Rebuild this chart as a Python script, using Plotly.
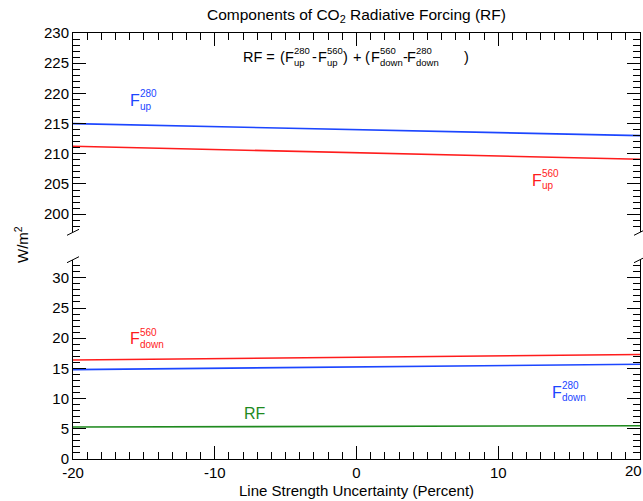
import plotly.graph_objects as go

# ---- data ----
line_strength = [-20, -10, 0, 10, 20]
f_up_280 = [215.0, 214.5, 214.0, 213.5, 213.0]
f_up_560 = [211.25, 210.7, 210.15, 209.6, 209.1]
f_down_560 = [16.4, 16.65, 16.85, 17.1, 17.3]
f_down_280 = [14.8, 15.05, 15.25, 15.5, 15.7]
rf = [5.3, 5.35, 5.4, 5.45, 5.5]

x_ticks = [-20, -10, 0, 10, 20]
x_tick_text = ["-20", "-10", "0", "10", "20"]
top_range = [197, 230]
bottom_range = [0, 33]

BLUE = "#1c46ff"
RED = "#ff1c1c"
GREEN = "#1f8a1f"
FONT = "Liberation Sans, Arial, Helvetica, sans-serif"

W, H = 643, 501
L, R, T, B = 73, 3, 33, 42
PW, PH = W - L - R, H - T - B

def px2x(px):
    return (px - L) / PW

def py2y(py):
    return (H - B - py) / PH

panel_px = 199.3
dom_bottom = [0, panel_px / PH]
dom_top = [1 - panel_px / PH, 1]

fig = go.Figure()
for y, c, ax in [(f_up_280, BLUE, "top"), (f_up_560, RED, "top"),
                 (f_down_560, RED, "bot"), (f_down_280, BLUE, "bot"),
                 (rf, GREEN, "bot")]:
    fig.add_trace(go.Scatter(
        x=line_strength, y=y, mode="lines",
        line=dict(color=c, width=1.6),
        xaxis="x2" if ax == "top" else "x",
        yaxis="y2" if ax == "top" else "y",
        showlegend=False, hoverinfo="skip"))

axis_common = dict(showline=True, linecolor="black", linewidth=1,
                   ticks="inside", ticklen=13, tickwidth=1, tickcolor="black",
                   showgrid=False, zeroline=False,
                   tickfont=dict(size=15, color="black", family=FONT))
minor = dict(dtick=1, ticklen=7, ticks="inside", tickcolor="black", tickwidth=1, showgrid=False)

annotations = []

def txt(text, px, py, size=16, color="black", xanchor="left"):
    annotations.append(dict(text=text, x=px2x(px), y=py2y(py), xref="paper", yref="paper",
                            xanchor=xanchor, yanchor="middle", showarrow=False,
                            borderpad=0,
                            font=dict(size=size, color=color, family=FONT)))

def flux(px, py, sup, sub, color="black", size=16, small=10, sup_x=None):
    txt("F", px, py, size, color)
    sx = px + size * 0.6 if sup_x is None else sup_x
    txt(sup, sx, py - 7, small, color)
    txt(sub, sx, py + 5.5, small, color)

# curve labels
flux(129, 101, "280", "up", BLUE)
flux(531, 180, "560", "up", RED)
flux(129, 339, "560", "down", RED)
flux(551, 392, "280", "down", BLUE)
txt("RF", 243, 413, 16, GREEN)

# equation
ey = 57
es, ss = 14.5, 9.5
txt("RF =", 242, ey, es)
txt("(", 279, ey, es)
flux(284, ey, "280", "up", size=es, small=ss, sup_x=293)
txt("-", 311, ey, es)
flux(317, ey, "560", "up", size=es, small=ss, sup_x=326)
txt(")", 342, ey, es)
txt("+", 352, ey, es)
txt("(", 364, ey, es)
flux(370, ey, "560", "down", size=es, small=ss, sup_x=379)
txt("-", 402, ey, es)
flux(406, ey, "280", "down", size=es, small=ss, sup_x=415)
txt(")", 463, ey, es)

# last x tick label: kept inside the page at the right edge
txt(x_tick_text[-1], 643, 470, 15, "black", xanchor="right")
x_tick_text_axis = x_tick_text[:-1] + [""]

# titles
annotations.append(dict(text="Components of CO<sub>2</sub> Radiative Forcing (RF)",
                        x=0.5, y=py2y(15.5), xref="paper", yref="paper",
                        xanchor="center", yanchor="middle", showarrow=False,
                        font=dict(size=15.5, color="black", family=FONT)))
annotations.append(dict(text="Line Strength Uncertainty (Percent)",
                        x=0.5, y=py2y(490), xref="paper", yref="paper",
                        xanchor="center", yanchor="middle", showarrow=False,
                        font=dict(size=15, color="black", family=FONT)))
annotations.append(dict(text="W/m<sup>2</sup>", x=px2x(22), y=py2y(245),
                        xref="paper", yref="paper", xanchor="center", yanchor="middle",
                        textangle=-90, showarrow=False,
                        font=dict(size=15, color="black", family=FONT)))

# axis break marks
shapes = []
for xp in [0, 1]:
    for yp in [dom_top[0], dom_bottom[1]]:
        shapes.append(dict(type="line", xref="paper", yref="paper",
                           xsizemode="pixel", ysizemode="pixel",
                           xanchor=xp, yanchor=yp, x0=-6, x1=6, y0=-3, y1=3,
                           line=dict(color="black", width=1)))

fig.update_layout(
    width=W, height=H,
    margin=dict(l=L, r=R, t=T, b=B, pad=0),
    plot_bgcolor="white", paper_bgcolor="white",
    font=dict(family=FONT, size=15, color="black"),
    xaxis=dict(range=[-20, 20], domain=[0, 1], anchor="y",
               tickmode="array", tickvals=x_ticks, ticktext=x_tick_text_axis,
               minor=minor, **axis_common),
    xaxis2=dict(range=[-20, 20], domain=[0, 1], anchor="y2", side="top",
                matches="x", showticklabels=False,
                tickmode="array", tickvals=x_ticks, minor=minor, **axis_common),
    yaxis=dict(range=bottom_range, domain=dom_bottom, anchor="x",
               dtick=5, tick0=0, mirror="ticks", minor=minor, **axis_common),
    yaxis2=dict(range=top_range, domain=dom_top, anchor="x2",
                dtick=5, tick0=0, mirror="ticks", minor=minor, **axis_common),
    annotations=annotations, shapes=shapes,
)

post = "document.body.style.margin='0px';document.body.style.overflow='hidden';"
fig.write_html("out.html", config={"displayModeBar": False}, post_script=post)
